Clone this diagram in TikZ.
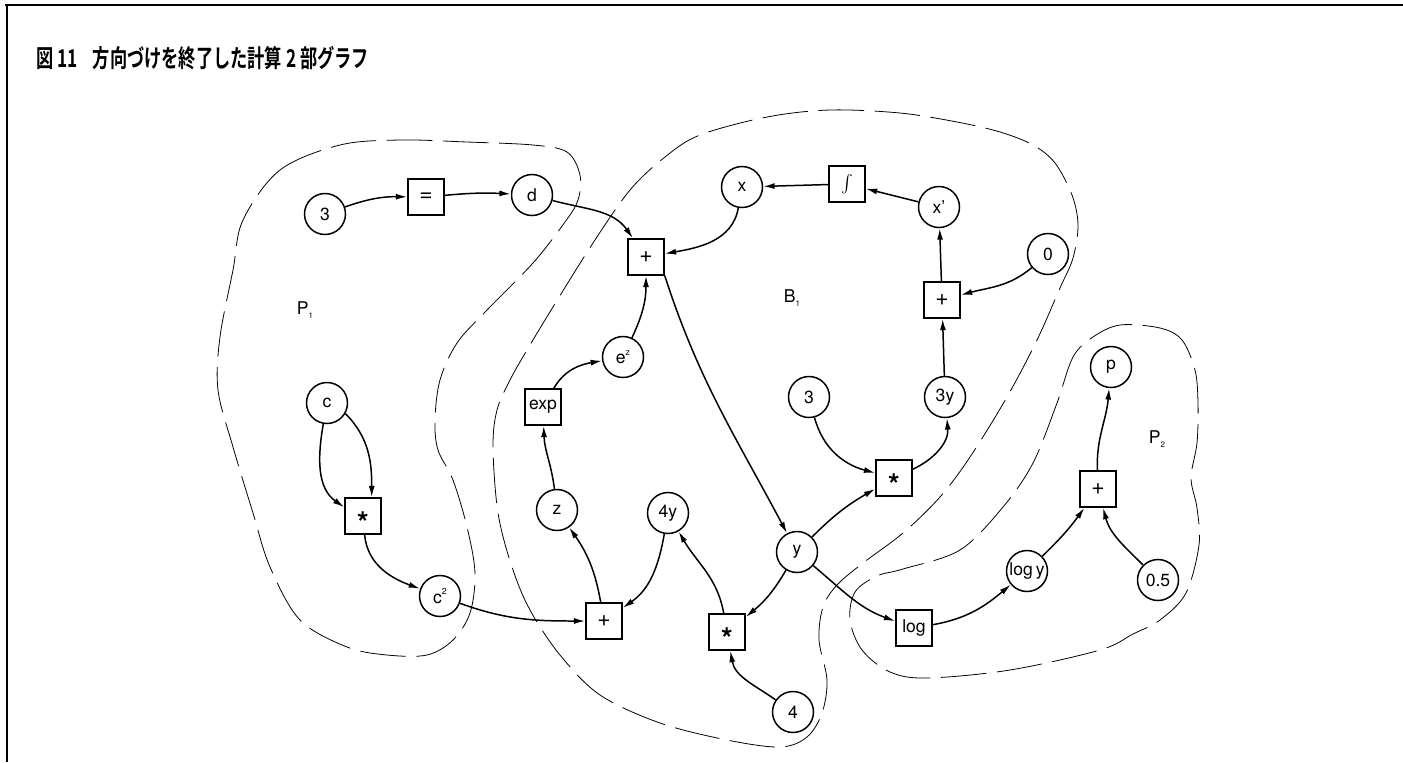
\documentclass[tikz,border=0pt]{standalone}
\usepackage{fontspec}
\setmainfont{TeX Gyre Heros}
\newfontfamily\cjkfont[FakeStretch=0.7,BoldFont={* Bold}]{Noto Sans CJK JP}
\usepackage{tikz}
\usetikzlibrary{arrows.meta}

\newcommand{\lowix}[1]{\raisebox{-0.4ex}{\fontsize{4.5pt}{5pt}\selectfont #1}}
\newcommand{\upix}[1]{\raisebox{0.9ex}{\fontsize{5pt}{5pt}\selectfont #1}}
\newcommand{\opstar}{\raisebox{-9.8pt}[0pt][0pt]{\fontsize{17pt}{17pt}\selectfont\bfseries *}}
\newcommand{\opsign}[1]{{\fontsize{13pt}{13pt}\selectfont #1}}

\begin{document}
\begin{tikzpicture}[x=0.02cm,y=0.02cm,>={Latex[length=6.5pt,width=3.4pt]},line width=0.85pt,
  every node/.style={font=\fontsize{10pt}{12pt}\selectfont},
  var/.style={draw,circle,minimum size=0.82cm,inner sep=0pt},
  opbox/.style={draw,rectangle,minimum size=0.72cm,inner sep=0pt},
  region/.style={line width=0.45pt,dash pattern=on 26pt off 6pt}]
  \useasboundingbox (0,0) rectangle (1403,-762);
  \draw[line width=1.1pt] (5,-5) -- (1403,-5);
  \draw[line width=1.1pt] (7,-5) -- (7,-762);
  \node[anchor=west] (title) at (30,-58) {\cjkfont\bfseries\fontsize{14pt}{16pt}\selectfont 図 11\hspace{0.6em}方向づけを終了した計算 2 部グラフ};

  % regions
  \draw[region] plot[smooth cycle,tension=0.55] coordinates {(243,-220) (280,-170) (340,-145) (400,-140) (467,-142) (533,-145) (567,-152) (580,-175) (578,-200) (565,-222) (533,-263) (487,-310) (457,-343) (440,-380) (435,-420) (438,-450) (453,-480) (467,-527) (475,-573) (470,-613) (453,-640) (427,-655) (387,-655) (347,-647) (300,-620) (270,-567) (253,-513) (233,-447) (218,-390) (220,-337) (233,-270)};
  \draw[region] plot[smooth cycle,tension=0.55] coordinates {(560,-655) (530,-610) (512,-567) (498,-513) (493,-447) (497,-410) (510,-380) (527,-350) (553,-307) (593,-243) (630,-190) (665,-157) (700,-135) (767,-117) (830,-110) (900,-113) (957,-122) (1000,-132) (1033,-145) (1055,-163) (1072,-195) (1078,-225) (1073,-258) (1060,-288) (1037,-340) (1007,-397) (970,-457) (940,-497) (903,-533) (863,-563) (837,-585) (823,-607) (819,-640) (827,-680) (822,-713) (807,-737) (780,-747) (727,-740) (660,-723) (600,-695)};
  \draw[region] plot[smooth cycle,tension=0.55] coordinates {(1120,-325) (1160,-328) (1182,-340) (1195,-370) (1198,-403) (1197,-443) (1191,-478) (1197,-508) (1199,-545) (1186,-593) (1160,-620) (1133,-634) (1100,-650) (1010,-670) (927,-678) (890,-672) (862,-650) (850,-620) (855,-592) (877,-576) (903,-569) (960,-550) (1003,-507) (1033,-463) (1057,-403) (1073,-357) (1093,-337)};
  \node (lblP) at (305,-310) {P\lowix{1}};
  \node (lblB) at (792,-298) {B\lowix{1}};
  \node (lblQ) at (1157,-439) {P\lowix{2}};

  % P1
  \node[var] (three) at (325,-214) {3};
  \node[opbox] (eq) at (426,-197) {\opsign{=}};
  \node[var] (d) at (532,-195) {d};
  \node[var] (c) at (327,-403) {c};
  \node[opbox] (mulP) at (363,-516) {\opstar};
  \node[var] (csq) at (440,-596) {c\upix{2}};

  % B1
  \node[opbox] (plusA) at (646,-257) {\opsign{+}};
  \node[var] (x) at (742,-187) {x};
  \node[opbox] (integ) at (847,-184) {$\int$};
  \node[var] (xp) at (939,-207) {x’};
  \node[var] (zero) at (1048,-254) {0};
  \node[opbox] (plusB) at (942,-300) {\opsign{+}};
  \node[var] (threeB) at (809,-397) {3};
  \node[var] (threey) at (945,-397) {3y};
  \node[opbox] (mulB) at (894,-478) {\opstar};
  \node[var] (y) at (797,-552) {y};
  \node[var] (foury) at (668,-513) {4y};
  \node[opbox] (mulL) at (727,-632) {\opstar};
  \node[var] (four) at (793,-712) {4};
  \node[opbox] (plusL) at (604,-621) {\opsign{+}};
  \node[var] (z) at (557,-510) {z};
  \node[opbox] (exp) at (543,-407) {exp};
  \node[var] (ez) at (623,-357) {e\upix{z}};

  % P2
  \node[opbox] (log) at (914,-628) {log};
  \node[var] (logy) at (1027,-571) {log\,y};
  \node[var] (half) at (1158,-580) {0.5};
  \node[opbox] (plusP) at (1098,-489) {\opsign{+}};
  \node[var] (p) at (1111,-367) {p};

  \draw[->] (three) to[bend left=10] (eq);
  \draw[->] (eq) to[bend left=4] (d);
  \draw[->] (d) to[out=-15,in=125] (plusA);
  \draw[->] (x) to[out=-100,in=10] (plusA);
  \draw[->] (integ) -- (x);
  \draw[->] (xp) -- (integ);
  \draw[->] (plusB) -- (xp);
  \draw[->] (zero) to[out=-140,in=15] (plusB);
  \draw[->] (threey) -- (plusB);
  \draw[->] (mulB) to[out=25,in=-85] (threey);
  \draw[->] (threeB) to[out=-75,in=165] (mulB);
  \draw[->] (y) to[out=45,in=-150] (mulB);
  \draw[->] (plusA.south east) to[out=-72,in=118] (y);
  \draw[->] (y) to[bend left=10] (mulL);
  \draw[->] (y) to[out=-40,in=160] (log);
  \draw[->] (four) to[out=145,in=-80] (mulL);
  \draw[->] (mulL) to[out=100,in=-60] (foury);
  \draw[->] (foury) to[out=-100,in=35] (plusL);
  \draw[->] (plusL) to[out=100,in=-55] (z);
  \draw[->] (z) to[out=97,in=-88] (exp);
  \draw[->] (exp) to[out=60,in=190] (ez);
  \draw[->] (ez) to[out=65,in=-90] (plusA);
  \draw[->] (c) to[out=-100,in=145] (mulP.155);
  \draw[->] (c.-30) to[out=-45,in=90] (mulP.65);
  \draw[->] (mulP) to[out=-85,in=160] (csq);
  \draw[->] (csq) to[out=-20,in=180] (plusL);
  \draw[->] (log) to[out=10,in=-140] (logy);
  \draw[->] (logy) to[bend right=5] (plusP);
  \draw[->] (half) to[out=135,in=-75] (plusP);
  \draw[->] (plusP) to[out=92,in=-95] (p);
\end{tikzpicture}
\end{document}
